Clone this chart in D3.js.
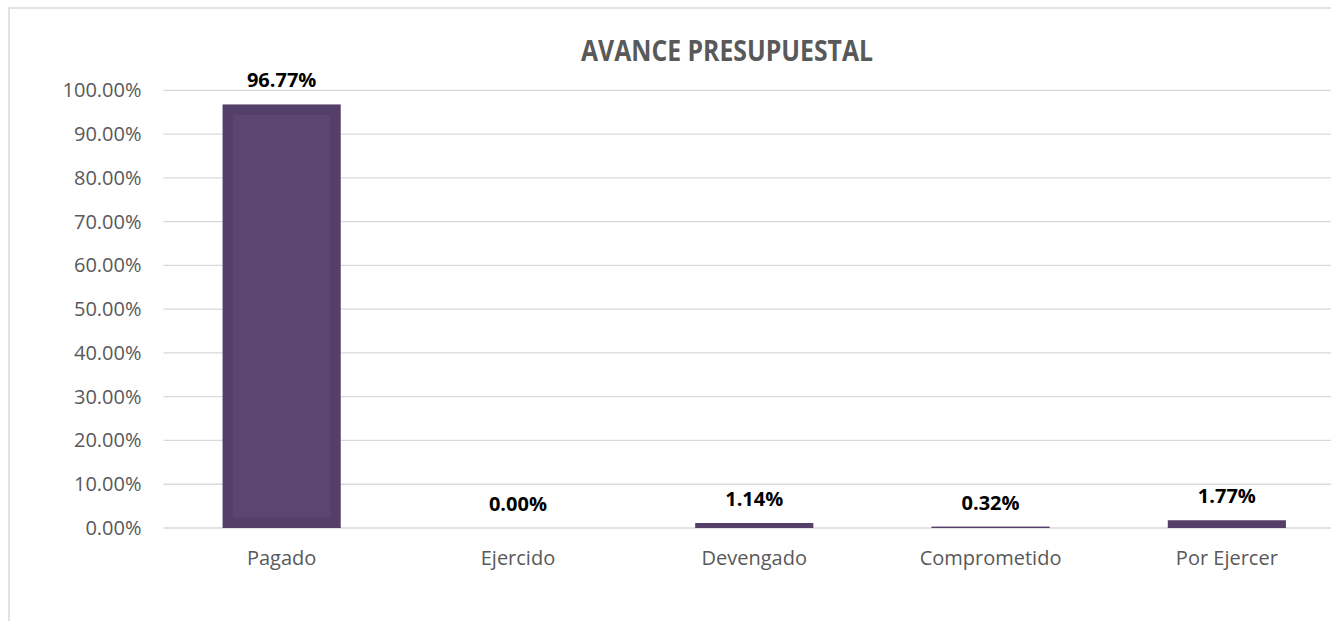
<!DOCTYPE html>
<html>
<head>
<meta charset="utf-8">
<script src="https://cdn.jsdelivr.net/npm/d3@7"></script>
<style>
  body { margin: 0; background: #fff; }
  text { font-family: "Open Sans", sans-serif; }
</style>
</head>
<body>
<script>
// chart data
var categories = ["Pagado", "Ejercido", "Devengado", "Comprometido", "Por Ejercer"];
var values = [0.9677, 0.0, 0.0114, 0.0032, 0.0177];
var labels = ["96.77%", "0.00%", "1.14%", "0.32%", "1.77%"];
var yTicks = [0, 0.1, 0.2, 0.3, 0.4, 0.5, 0.6, 0.7, 0.8, 0.9, 1.0];
var title = "AVANCE PRESUPUESTAL";

var width = 1331, height = 621;

var svg = d3.select("body").append("svg")
  .attr("width", width)
  .attr("height", height);

// chart frame (runs off the right and bottom edge)
svg.append("rect")
  .attr("x", 9).attr("y", 8)
  .attr("width", 1500).attr("height", 700)
  .attr("fill", "none")
  .attr("stroke", "#d9d9d9")
  .attr("stroke-width", 1.5);

var xScale = d3.scaleBand()
  .domain(categories)
  .range([163.5, 1345])
  .paddingInner(0.5)
  .paddingOuter(0.25);

var yScale = d3.scaleLinear()
  .domain([0, 1])
  .range([528, 90.3]);

// gridlines
svg.append("g").selectAll("line")
  .data(yTicks)
  .enter().append("line")
  .attr("x1", 163.5).attr("x2", width)
  .attr("y1", function(d) { return yScale(d); })
  .attr("y2", function(d) { return yScale(d); })
  .attr("stroke", "#d9d9d9")
  .attr("stroke-width", 1.3);

// y axis
var yAxis = d3.axisLeft(yScale)
  .tickValues(yTicks)
  .tickFormat(d3.format(".2%"))
  .tickSize(0)
  .tickPadding(22);

var yg = svg.append("g")
  .attr("transform", "translate(163.5,0)")
  .call(yAxis);
yg.select(".domain").remove();
yg.selectAll("text")
  .style("font-family", "'Open Sans', sans-serif")
  .style("font-size", "20px")
  .attr("fill", "#595959");

// x axis
var xAxis = d3.axisBottom(xScale).tickSize(0).tickPadding(23);
var xg = svg.append("g")
  .attr("transform", "translate(0,528)")
  .call(xAxis);
xg.select(".domain").remove();
xg.selectAll("text")
  .style("font-family", "'Open Sans', sans-serif")
  .style("font-size", "20px")
  .attr("fill", "#595959");

// bars
var bars = svg.append("g").selectAll("g")
  .data(values)
  .enter().append("g");

bars.append("rect")
  .attr("x", function(d, i) { return xScale(categories[i]); })
  .attr("y", function(d) { return yScale(d); })
  .attr("width", xScale.bandwidth())
  .attr("height", function(d) { return yScale(0) - yScale(d); })
  .attr("fill", "#533f67");

// lighter inner fill on tall bars
var inset = 10.5;
bars.filter(function(d) { return yScale(0) - yScale(d) > 2 * inset; })
  .append("rect")
  .attr("x", function(d, i) { return xScale(categories[values.indexOf(d)]) + inset; })
  .attr("y", function(d) { return yScale(d) + inset; })
  .attr("width", xScale.bandwidth() - 2 * inset)
  .attr("height", function(d) { return yScale(0) - yScale(d) - 2 * inset; })
  .attr("fill", "#5b4672");

// value labels
svg.append("g").selectAll("text")
  .data(values)
  .enter().append("text")
  .attr("x", function(d, i) { return xScale(categories[i]) + xScale.bandwidth() / 2; })
  .attr("y", function(d) { return yScale(d) - 17; })
  .attr("text-anchor", "middle")
  .style("font-size", "20px")
  .style("font-weight", "bold")
  .attr("fill", "#000")
  .text(function(d, i) { return labels[i]; });

// title
svg.append("text")
  .attr("x", 727)
  .attr("y", 61)
  .attr("text-anchor", "middle")
  .style("font-size", "28px")
  .style("font-weight", "bold")
  .attr("fill", "#595959")
  .attr("textLength", 292)
  .attr("lengthAdjust", "spacingAndGlyphs")
  .text(title);
</script>
</body>
</html>
